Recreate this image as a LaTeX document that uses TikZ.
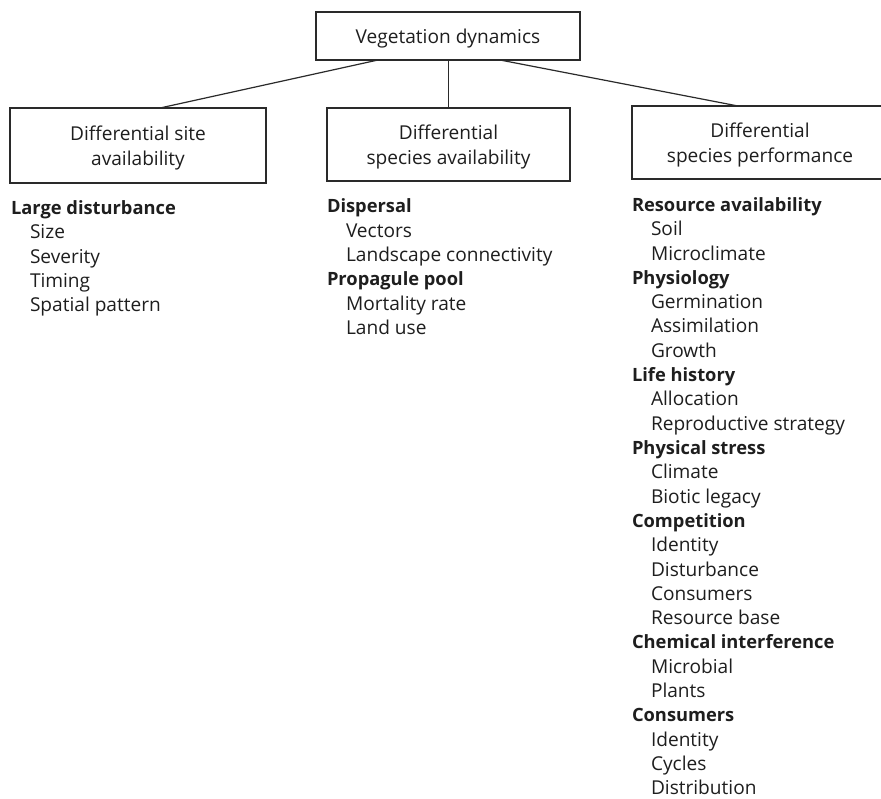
\documentclass[tikz,border=0pt]{standalone}
\usepackage{fontspec}
\setmainfont{Open Sans}
\usetikzlibrary{calc}
\definecolor{ink}{HTML}{1E1E1E}
\definecolor{rule}{HTML}{2A2A2A}
\tikzset{
  every node/.style={text=ink, inner sep=0pt, outer sep=0pt},
  titlebox/.style={draw=rule, line width=1.2pt, align=center, text depth=0pt,
    font=\fontsize{19.1}{25}\selectfont},
  link/.style={draw=rule, line width=1.2pt},
  colhead/.style={font=\fontsize{18.3}{24}\selectfont\bfseries},
  colitem/.style={font=\fontsize{19.1}{24}\selectfont, xshift=19pt},
}
\begin{document}
\begin{tikzpicture}[x=1pt, y=-1pt]
  \useasboundingbox[fill=white] (0,0) rectangle (881,799);

  % boxes
  \node[titlebox, minimum width=264pt, minimum height=48pt] (top) at (448,36) {Vegetation dynamics};
  \node[titlebox, minimum width=256pt, minimum height=75pt] (site) at (138,145.5) {Differential site\\availability};
  \node[titlebox, minimum width=243pt, minimum height=73pt] (avail) at (448.5,144.5) {Differential\\species availability};
  \node[titlebox, minimum width=256pt, minimum height=73pt] (perf) at (760,142.5) {Differential\\species performance};

  % connectors
  \draw[link] ($(top.south west)!0.235!(top.south east)$) -- ($(site.north west)!0.586!(site.north east)$);
  \draw[link] (top.south -| avail.north) -- (avail.north);
  \draw[link] ($(top.south west)!0.697!(top.south east)$) -- ($(perf.north west)!0.414!(perf.north east)$);

  % factor lists
  \foreach \txt/\kind [count=\i from 0] in {Large disturbance/colhead, Size/colitem, Severity/colitem, Timing/colitem, Spatial pattern/colitem}
    \node[\kind, anchor=base west] (L\i) at (11, 214.5+\i*24.3) {\txt};

  \foreach \txt/\kind [count=\i from 0] in {Dispersal/colhead, Vectors/colitem, Landscape connectivity/colitem, Propagule pool/colhead, Mortality rate/colitem, Land use/colitem}
    \node[\kind, anchor=base west] (M\i) at (327, 213+\i*24.3) {\txt};

  \foreach \txt/\kind [count=\i from 0] in {Resource availability/colhead, Soil/colitem, Microclimate/colitem,
      Physiology/colhead, Germination/colitem, Assimilation/colitem, Growth/colitem,
      Life history/colhead, Allocation/colitem, Reproductive strategy/colitem,
      Physical stress/colhead, Climate/colitem, Biotic legacy/colitem,
      Competition/colhead, Identity/colitem, Disturbance/colitem, Consumers/colitem, Resource base/colitem,
      Chemical interference/colhead, Microbial/colitem, Plants/colitem,
      Consumers/colhead, Identity/colitem, Cycles/colitem, Distribution/colitem}
    \node[\kind, anchor=base west] (R\i) at (632, 211.5+\i*24.3) {\txt};
\end{tikzpicture}
\end{document}
